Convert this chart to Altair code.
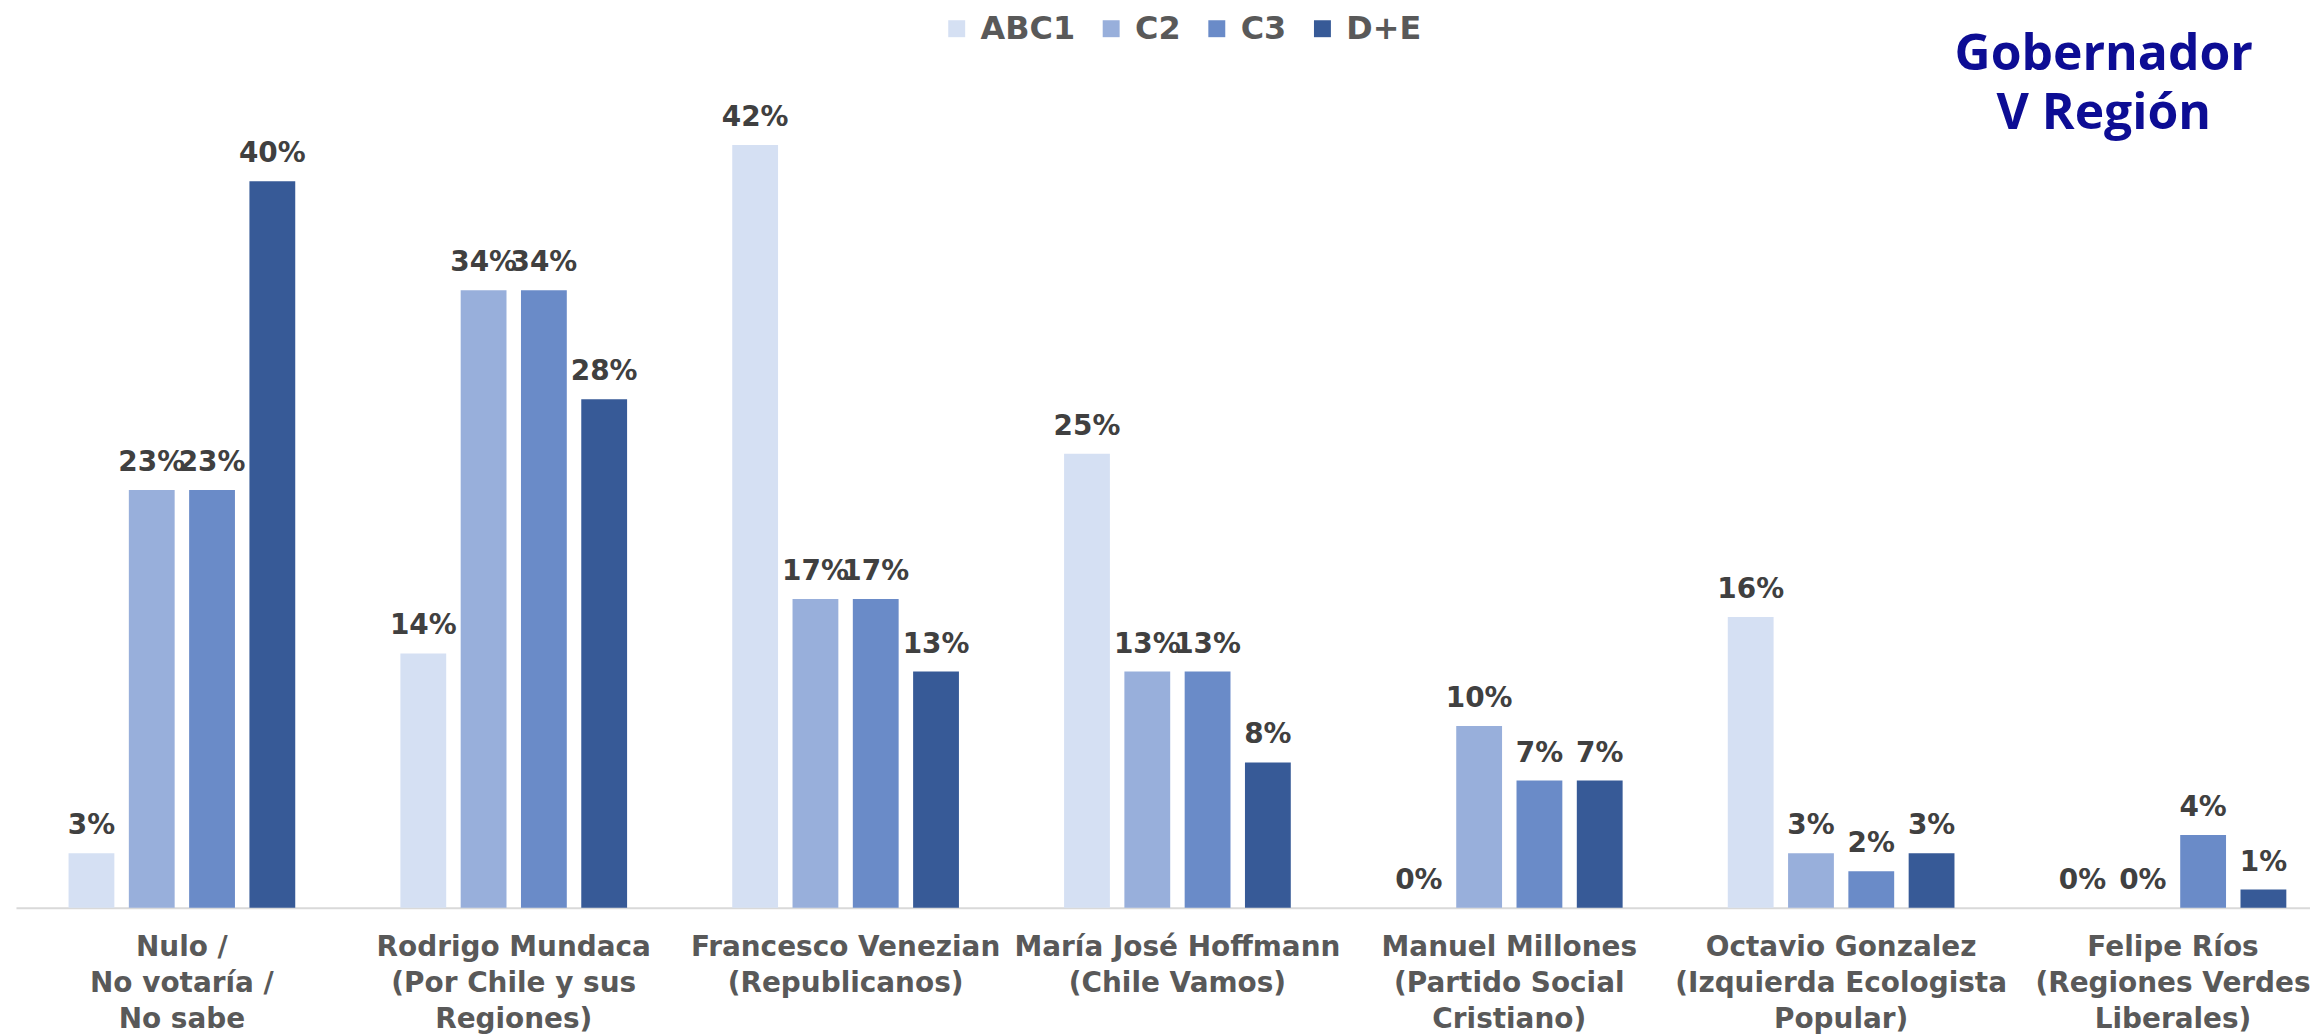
import altair as alt
import pandas as pd

candidatos = [
    "Nulo /\nNo votaría /\nNo sabe",
    "Rodrigo Mundaca\n(Por Chile y sus\nRegiones)",
    "Francesco Venezian\n(Republicanos)",
    "María José Hoffmann\n(Chile Vamos)",
    "Manuel Millones\n(Partido Social\nCristiano)",
    "Octavio Gonzalez\n(Izquierda Ecologista\nPopular)",
    "Felipe Ríos\n(Regiones Verdes\nLiberales)",
]
segmentos = ["ABC1", "C2", "C3", "D+E"]
abc1 = [3, 14, 42, 25, 0, 16, 0]
c2 = [23, 34, 17, 13, 10, 3, 0]
c3 = [23, 34, 17, 13, 7, 2, 4]
de = [40, 28, 13, 8, 7, 3, 1]
colores = ["#d5e0f3", "#98afdb", "#6a8bc8", "#375a97"]
titulo = ["Gobernador", "V Región"]

series = {"ABC1": abc1, "C2": c2, "C3": c3, "D+E": de}
rows = []
for seg in segmentos:
    for cand, v in zip(candidatos, series[seg]):
        rows.append({"cand": cand, "seg": seg, "v": v})
df = pd.DataFrame(rows)

FONT = "DejaVu Sans"

x_enc = alt.X(
    "cand:N",
    sort=candidatos,
    scale=alt.Scale(range=[0, 2331], paddingInner=0, paddingOuter=0),
    axis=alt.Axis(
        title=None,
        labelExpr="split(datum.value, '\\n')",
        labelFontSize=28,
        labelFont=FONT,
        labelFontWeight="bold",
        labelColor="#595959",
        labelLineHeight=36,
        labelBaseline="alphabetic",
        labelPadding=48,
        labelAngle=0,
        labelLimit=1000,
        labelOverlap=False,
        labelBound=False,
        labelFlush=False,
        ticks=False,
        domainColor="#d9d9d9",
        domainWidth=2,
        grid=False,
    ),
)
xo_enc = alt.XOffset("seg:N", sort=segmentos, scale=alt.Scale(paddingInner=0.24, paddingOuter=0.872))
y_enc = alt.Y("v:Q", scale=alt.Scale(domain=[0, 45]), axis=None)

bars = alt.Chart(df).mark_bar().encode(
    x=x_enc,
    xOffset=xo_enc,
    y=y_enc,
    color=alt.Color(
        "seg:N",
        sort=segmentos,
        scale=alt.Scale(domain=segmentos, range=colores),
        legend=alt.Legend(
            orient="none",
            legendX=928,
            legendY=-78,
            direction="horizontal",
            title=None,
            symbolType="square",
            symbolSize=289,
            symbolStrokeWidth=0,
            labelFontSize=32,
            labelFont=FONT,
            labelFontWeight="bold",
            labelColor="#595959",
            labelOffset=8,
            columnPadding=20,
            padding=0,
        ),
    ),
)

labels = alt.Chart(df).transform_calculate(
    lab="datum.v + '%'"
).mark_text(
    dy=-19, baseline="alphabetic", align="center", fontSize=28,
    font=FONT, fontWeight="bold", color="#404040"
).encode(
    x=x_enc,
    xOffset=xo_enc,
    y=y_enc,
    text="lab:N",
)

chart = alt.layer(bars, labels).properties(
    width=2302,
    height=820,
    padding={"left": 8, "top": 81, "right": 0, "bottom": 127},
    autosize=alt.AutoSizeParams(type="none"),
    title=alt.TitleParams(
        titulo,
        anchor="end",
        align="center",
        fontSize=50,
        font="Open Sans",
        fontWeight="bold",
        color="#0d0d94",
        lineHeight=60,
        dx=-236,
        dy=131,
    ),
).configure_view(stroke=None)

chart.save("out.html", embed_options={"renderer": "svg", "actions": False})
